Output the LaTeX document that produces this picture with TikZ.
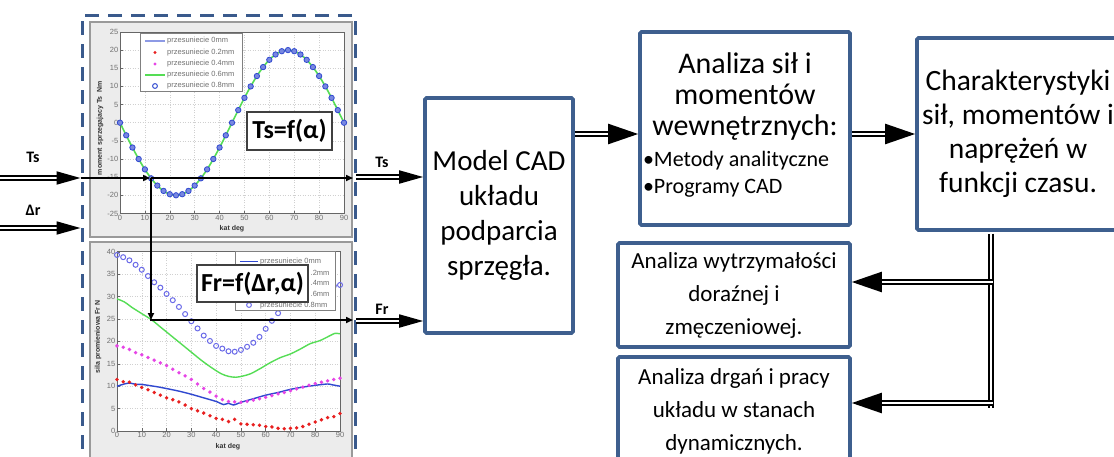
\documentclass[tikz,border=0pt]{standalone}
\usepackage{fontspec}
\setmainfont{Carlito}
\newfontfamily\plotfont{Liberation Sans}
\usetikzlibrary{arrows.meta}

\definecolor{boxblue}{HTML}{3E5F8E}
\definecolor{dashblue}{HTML}{3A5A8C}
\definecolor{figbg}{HTML}{ECECEC}
\definecolor{figedge}{HTML}{9A9A9A}
\definecolor{gridc}{HTML}{D0D0D0}
\definecolor{mgreen}{HTML}{55DD55}
\definecolor{mblue}{HTML}{3048D0}
\definecolor{circblue}{HTML}{6A6AE8}
\definecolor{mred}{HTML}{E82020}
\definecolor{mmag}{HTML}{E645E6}
\definecolor{ticktxt}{HTML}{707070}

\tikzset{
  flowbox/.style={draw=boxblue, line width=3.6pt, fill=white, rounded corners=1.5pt,
                  inner sep=0pt, align=center},
  midtxt/.style={font=\fontsize{23}{33}\selectfont},
  dblline/.style={draw=white, line width=2.2pt, preaction={draw=black, line width=6.4pt}},
  dblbig/.style={draw=white, line width=2.2pt, -{Triangle[length=30pt,width=20pt,color=black]},
                 preaction={draw=black, line width=6.4pt, -, shorten >=14pt}},
  dblsmall/.style={draw=white, line width=1.8pt, -{Triangle[length=24pt,width=13pt,color=black]},
                   preaction={draw=black, line width=5.2pt, -, shorten >=12pt}},
  thinarr/.style={draw=black, line width=1.6pt, -{Triangle[length=7pt,width=6pt]}},
  sig/.style={font=\bfseries\fontsize{16}{16}\selectfont},
  formula/.style={draw=black!75, line width=1.2pt, fill=white, inner sep=4pt,
                  font=\bfseries\fontsize{26}{26}\selectfont},
  figframe/.style={draw=figedge, line width=1.5pt, fill=figbg},
  axbox/.style={draw=black!60, line width=0.8pt},
  gridln/.style={draw=gridc, line width=0.5pt, dash pattern=on 1pt off 1.5pt},
  tick/.style={font=\plotfont\fontsize{7.5}{8}\selectfont, text=ticktxt, inner sep=1.5pt},
  axlabel/.style={font=\plotfont\bfseries\fontsize{7}{8}\selectfont, text=black!80, inner sep=1pt},
  legtxt/.style={font=\plotfont\fontsize{7.5}{8}\selectfont, text=ticktxt, anchor=west, inner sep=0pt},
  legbox/.style={draw=black!50, line width=0.8pt, fill=white},
}

\begin{document}
\begin{tikzpicture}[x=1pt,y=-1pt]
\useasboundingbox (0,0) rectangle (1114,456);
\fill[white] (0,0) rectangle (1114,456);

% ---------- upper chart: Ts = f(alpha) ----------
\draw[figframe] (90,22) rectangle (352,237);
\fill[white] (120,31.9) rectangle (344,213.5);
\begin{scope}[shift={(120,122.7)}, x=2.489pt, y=3.63pt]
  \foreach \a in {10,20,...,80} \draw[gridln] (\a,-25) -- (\a,25);
  \foreach \v in {-20,-15,...,20} \draw[gridln] (0,\v) -- (90,\v);
  \draw[axbox] (0,-25) rectangle (90,25);
  \foreach \v [count=\i] in {-25,-20,...,25} {
    \draw[black!60, line width=0.5pt] (0,\v) -- (1.2,\v);
    \node[tick, anchor=east] (tyA\i) at (0,\v) {\v};
  }
  \foreach \a [count=\i] in {0,10,...,90} {
    \draw[black!60, line width=0.5pt] (\a,-25) -- (\a,-24.2);
    \node[tick, anchor=north] (txA\i) at (\a,-25) {\a};
  }
  \draw[mgreen, line width=1.6pt] plot[domain=0:90, samples=91, smooth] (\x,{-20*sin(4*\x)});
  \foreach \a in {0,2.5,...,90}
    \draw[mblue, fill=mblue!65, line width=0.8pt] (\a,{-20*sin(4*\a)}) circle[radius=2.7pt];
\end{scope}
\node[axlabel, rotate=90] (ylabA) at (100,128) {moment sprzegajacy Ts\ \ Nm};
\node[axlabel] (xlabA) at (232,229) {kat deg};
% legend of the upper chart
\draw[legbox] (140,33) rectangle (242,91);
\draw[mblue!55, line width=1.2pt] (145,41) -- (165,41);
\fill[mred] (155,52.5) circle[radius=1.6pt];
\fill[mmag] (155,64) circle[radius=1.6pt];
\draw[mgreen, line width=1.8pt] (145,75) -- (165,75);
\draw[mblue, line width=1pt] (155,86) circle[radius=2.4pt];
\node[legtxt] (lgA1) at (167,41) {przesuniecie 0mm};
\node[legtxt] (lgA2) at (167,52.5) {przesuniecie 0.2mm};
\node[legtxt] (lgA3) at (167,64) {przesuniecie 0.4mm};
\node[legtxt] (lgA4) at (167,75) {przesuniecie 0.6mm};
\node[legtxt] (lgA5) at (167,86) {przesuniecie 0.8mm};
\node[formula, minimum width=85pt, minimum height=38pt] (fTs) at (289.5,131) {Ts=f(α)};

% ---------- lower chart: Fr = f(dr, alpha) ----------
\draw[figframe] (90,242) rectangle (352,470);
\fill[white] (117,251.8) rectangle (340,431);
\begin{scope}[shift={(117,431)}, x=2.478pt, y=4.48pt]
  \foreach \a in {10,20,...,80} \draw[gridln] (\a,0) -- (\a,40);
  \foreach \v in {5,10,...,35} \draw[gridln] (0,\v) -- (90,\v);
  \draw[axbox] (0,0) rectangle (90,40);
  \foreach \v [count=\i] in {0,5,...,40} {
    \draw[black!60, line width=0.5pt] (0,\v) -- (1.2,\v);
    \node[tick, anchor=east] (tyB\i) at (0,\v) {\v};
  }
  \foreach \a [count=\i] in {0,10,...,90} {
    \draw[black!60, line width=0.5pt] (\a,0) -- (\a,0.6);
    \node[tick, anchor=north] (txB\i) at (\a,0) {\a};
  }
  % 0 mm
  \draw[mblue, line width=1.4pt] plot[smooth, tension=0.4] coordinates {
    (0,10) (3,10.5) (5,10.7) (8,10.4) (10,10.4) (17,9.8) (25,8.9) (30,8.2) (35,7.4)
    (40,6.6) (43,5.9) (45,6.2) (47,5.8) (50,6.4) (55,7.2) (60,8) (65,8.6) (70,9.3)
    (75,9.8) (80,10.2) (85,10.5) (87,10.3) (90,10)};
  % 0.2 mm
  \foreach \a/\v in {0/11.5,2.5/11,5/10.9,7.5/10.3,10/9.7,12.5/9.2,15/8.6,17.5/8,20/7.4,
    22.5/7,25/6.5,27.5/5.8,30/5,32.5/4.5,35/4,37.5/3.4,40/2.8,42.5/2.6,45/2.1,47.5/2.6,
    50/1.6,52.5/1.5,55/1.4,57.5/1.3,60/1,62.5/0.9,65/0.6,67.5/0.5,70/0.6,72.5/0.7,75/1,
    77.5/1.5,80/2,82.5/2.5,85/3,87.5/3.2,90/3.9}
    \fill[mred] (\a,\v) circle[radius=1.9pt];
  % 0.4 mm
  \foreach \a/\v in {0/19,2.5/18.7,5/18.2,7.5/17.5,10/17,12.5/16.4,15/15.8,17.5/15.2,
    20/14.6,22.5/13.8,25/13,27.5/12.3,30/11.5,32.5/10.5,35/9.5,37.5/8.7,40/7.8,42.5/7,
    45/6.6,47.5/6.5,50/6.4,52.5/6.6,55/6.9,57.5/7.2,60/7.5,62.5/7.9,65/8.3,67.5/8.6,
    70/9,72.5/9.4,75/9.8,77.5/10.2,80/10.6,82.5/10.9,85/11.2,87.5/11.5,90/11.8}
    \fill[mmag] (\a,\v) circle[radius=1.9pt];
  % 0.6 mm
  \draw[mgreen, line width=1.4pt] plot[smooth, tension=0.5] coordinates {
    (0,29.5) (3,28.8) (6,27.6) (10,26.2) (14,24.8) (18,23) (22,21.2) (26,19.4) (30,17.6)
    (34,15.8) (38,14.2) (42,12.8) (45,12.2) (48,12) (51,12.3) (54,12.8) (58,14) (62,15.3)
    (66,16.4) (70,17.2) (74,18.3) (78,19.5) (82,20.2) (86,21.3) (88,21.8) (90,21.7)};
  % 0.8 mm
  \foreach \a/\v in {0/39.3,2.5/38.8,5/38.1,7.5/37.1,10/36,12.5/34.6,15/33.2,17.5/32,
    20/30.6,22.5/29.2,25/27.7,27.5/26.1,30/24.5,32.5/22.9,35/21.3,37.5/20.1,40/19,
    42.5/18.4,45/17.8,47.5/17.7,50/18.1,52.5/18.8,55/19.7,57.5/21,60/22.8,62.5/24.6,
    65/26.3,67.5/27.6,70/28.6,72.5/29.4,75/30.1,77.5/30.7,80/31.2,82.5/31.7,85/32.1,
    87.5/32.4,90/32.6}
    \draw[circblue, line width=1pt] (\a,\v) circle[radius=2.5pt];
\end{scope}
\node[axlabel, rotate=90] (ylabB) at (98,337) {sila promieniowa Fr N};
\node[axlabel] (xlabB) at (228,447) {kat deg};
% legend of the lower chart (partly hidden behind the formula box)
\draw[legbox] (235,251) rectangle (335,310);
\draw[mblue, line width=1.2pt] (240,261.7) -- (258,261.7);
\draw[mgreen, line width=1.6pt] (240,294) -- (250,294);
\draw[circblue, line width=1pt] (249,305) circle[radius=2.4pt];
\node[legtxt] (lgB1) at (260,261.7) {przesuniecie 0mm};
\node[legtxt] (lgB2) at (310.5,272.7) {.2mm};
\node[legtxt] (lgB3) at (310.5,283.3) {.4mm};
\node[legtxt] (lgB4) at (310.5,294) {.6mm};
\node[legtxt] (lgB5) at (260,305.5) {przesuniecie 0.8mm};
\node[formula, minimum width=111pt, minimum height=37pt] (fFr) at (252.5,283.5) {Fr=f(Δr,α)};

% ---------- dashed frame around both charts ----------
\node[draw=dashblue, line width=3pt, dash pattern=on 14pt off 9pt, minimum width=273pt,
      minimum height=460pt, inner sep=0pt] (grp) at (218.5,245) {};

% signal path through the charts
\coordinate (tsIn)  at (0,178);
\coordinate (drIn)  at (0,228);
\coordinate (hitTs) at (151,178);
\coordinate (hitFr) at (151,320);
\coordinate (tsOut) at (353,178);
\coordinate (frOut) at (353,320);
\draw[thinarr] (tsIn -| grp.west) -- ([xshift=-1pt]hitTs);
\draw[thinarr] (hitTs) -- (tsOut);
\draw[thinarr] (hitTs) -- (hitFr);
\draw[thinarr] ([xshift=-0.8pt]hitFr) -- (frOut);

% ---------- flow boxes ----------
\node[flowbox, minimum width=148pt, minimum height=235pt,
      font=\fontsize{29}{35}\selectfont] (cad) at (499,215.5)
      {Model CAD\\układu\\podparcia\\sprzęgła.};
\node[flowbox, minimum width=210pt, minimum height=193pt] (an) at (745,128.5)
      {\begin{minipage}{204pt}\centering\fontsize{30}{31}\selectfont
       Analiza sił i\\momentów\\wewnętrznych:\par\vspace{4pt}
       \raggedright\fontsize{22}{27}\selectfont •Metody analityczne\\•Programy CAD\par\vspace{8pt}
       \end{minipage}};
\node[flowbox, minimum width=202pt, minimum height=192pt,
      font=\fontsize{29.5}{34}\selectfont] (ch) at (1018,134)
      {Charakterystyki\\sił, momentów i\\naprężeń w\\funkcji czasu.};
\node[flowbox, minimum width=232pt, minimum height=104pt, midtxt] (w1) at (734,295)
      {Analiza wytrzymałości\\doraźnej i\\zmęczeniowej.};
\node[flowbox, minimum width=232pt, minimum height=109pt, midtxt] (w2) at (734,411.5)
      {Analiza drgań i pracy\\układu w stanach\\dynamicznych.};

% ---------- signal labels ----------
\node[sig] (lTsIn)  at (33,157) {Ts};
\node[sig] (lDrIn)  at (33,210) {Δr};
\node[sig] (lTsOut) at (382,162) {Ts};
\node[sig] (lFrOut) at (382,309) {Fr};

% ---------- double-line connectors ----------
\draw[dblsmall] (tsIn) -- (tsIn -| grp.west);
\draw[dblsmall] (drIn) -- (drIn -| grp.west);
\coordinate (tsR) at (356,177);
\coordinate (frR) at (356,321);
\draw[dblsmall] (tsR) -- (tsR -| cad.west);
\draw[dblsmall] (frR) -- (frR -| cad.west);
\coordinate (cadA) at (575,134);
\draw[dblbig] (cadA -| cad.east) -- (cadA -| an.west);
\draw[dblbig] (cadA -| an.east) -- (cadA -| ch.west);
\coordinate (j1) at (991,282);
\coordinate (j2) at (991,403);
\coordinate (vEnd) at (991,408);
\draw[dblline] ([yshift=-1.8pt]ch.south -| j1) -- (vEnd);
\draw[dblbig] ([xshift=2pt]j1) -- (j1 -| w1.east);
\draw[dblbig] ([xshift=2pt]j2) -- (j2 -| w2.east);
\end{tikzpicture}
\end{document}
